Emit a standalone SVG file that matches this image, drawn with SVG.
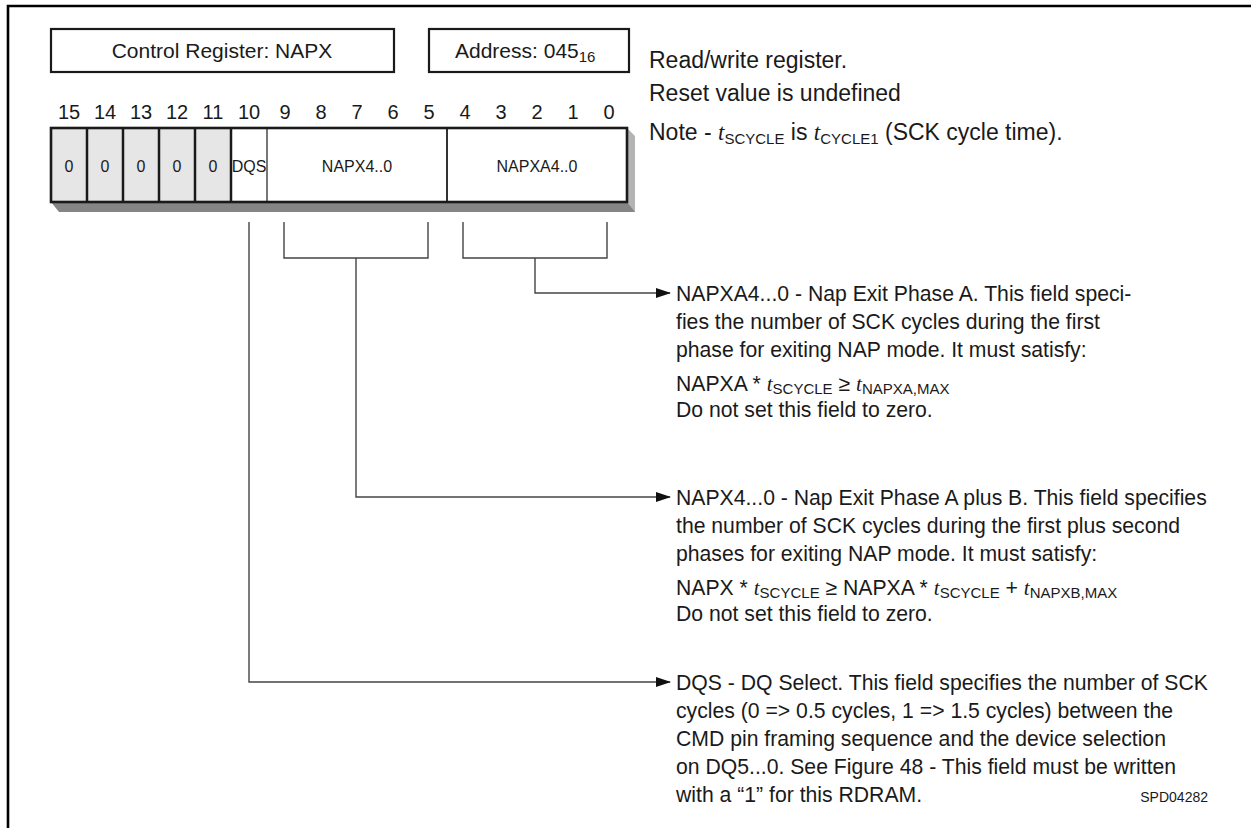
<svg xmlns="http://www.w3.org/2000/svg" width="1251" height="828" viewBox="0 0 1251 828">
<defs>
<style>
.t{font-family:"Liberation Sans",Arial,sans-serif;fill:#1a1a1a}
.lbl{font-size:21px}
.num{font-size:20px;text-anchor:middle}
.cell{font-size:16px;text-anchor:middle}
.body{font-size:21.2px}
.top{font-size:23px}
.it{font-family:"Liberation Serif","Times New Roman",serif;font-style:italic}
.sub{font-size:15px}
.box{fill:#fff;stroke:#1a1a1a;stroke-width:2.2}
.conn{fill:none;stroke:#444;stroke-width:1.4}
</style>
<marker id="arr" markerWidth="15" markerHeight="10" refX="14" refY="5" orient="auto" markerUnits="userSpaceOnUse">
<path d="M0,0 L15,5 L0,10 Z" fill="#111"/>
</marker>
</defs>
<rect width="1251" height="828" fill="#fff"/>
<path d="M8,828 V6 H1251" fill="none" stroke="#000" stroke-width="2.6"/>

<g id="title">
<rect class="box" x="51" y="29" width="343" height="43"/>
<text class="t lbl" x="222" y="58" text-anchor="middle">Control Register: NAPX</text>
</g>
<g id="address">
<rect class="box" x="429" y="29" width="200" height="43"/>
<text class="t lbl" x="455" y="58">Address: 045<tspan class="sub" dy="4">16</tspan></text>
</g>

<g id="bitnumbers">
<text class="t num" x="69" y="119">15</text>
<text class="t num" x="105" y="119">14</text>
<text class="t num" x="141" y="119">13</text>
<text class="t num" x="177" y="119">12</text>
<text class="t num" x="213" y="119">11</text>
<text class="t num" x="249" y="119">10</text>
<text class="t num" x="285" y="119">9</text>
<text class="t num" x="321" y="119">8</text>
<text class="t num" x="357" y="119">7</text>
<text class="t num" x="393" y="119">6</text>
<text class="t num" x="429" y="119">5</text>
<text class="t num" x="465" y="119">4</text>
<text class="t num" x="501" y="119">3</text>
<text class="t num" x="537" y="119">2</text>
<text class="t num" x="573" y="119">1</text>
<text class="t num" x="609" y="119">0</text>
</g>

<g id="register">
<polygon points="51,202 627,202 635,210 635,212 59,212" fill="#858585"/>
<polygon points="627,128 635,136 635,212 627,202" fill="#b4b4b4"/>
<rect x="51" y="128" width="180" height="74" fill="#e6e6e6"/>
<rect x="231" y="128" width="396" height="74" fill="#fff"/>
<g stroke="#1a1a1a" stroke-width="2.5">
<line x1="87" y1="128" x2="87" y2="202"/>
<line x1="123" y1="128" x2="123" y2="202"/>
<line x1="159" y1="128" x2="159" y2="202"/>
<line x1="195" y1="128" x2="195" y2="202"/>
<line x1="231" y1="128" x2="231" y2="202"/>
</g>
<line x1="267" y1="128" x2="267" y2="202" stroke="#555" stroke-width="1.6"/>
<line x1="447" y1="128" x2="447" y2="202" stroke="#333" stroke-width="2"/>
<rect x="51" y="128" width="576" height="74" fill="none" stroke="#1a1a1a" stroke-width="2.6"/>
<text class="t cell" x="69" y="172">0</text>
<text class="t cell" x="105" y="172">0</text>
<text class="t cell" x="141" y="172">0</text>
<text class="t cell" x="177" y="172">0</text>
<text class="t cell" x="213" y="172">0</text>
<text class="t cell" x="249" y="172">DQS</text>
<text class="t cell" x="357" y="172">NAPX4..0</text>
<text class="t cell" x="537" y="172">NAPXA4..0</text>
</g>

<g id="connectors">
<path class="conn" d="M284,222 V258 H428 V222"/>
<path class="conn" d="M463,222 V258 H607 V222"/>
<path class="conn" d="M535,258 V293 H670" marker-end="url(#arr)"/>
<path class="conn" d="M356,258 V497 H670" marker-end="url(#arr)"/>
<path class="conn" d="M249,222 V682 H670" marker-end="url(#arr)"/>
</g>

<g id="notes">
<text class="t top" x="649" y="68">Read/write register.</text>
<text class="t top" x="649" y="101">Reset value is undefined</text>
<text class="t top" x="649" y="140">Note - <tspan class="it">t</tspan><tspan class="sub" dy="4">SCYCLE</tspan><tspan dy="-4"> is </tspan><tspan class="it">t</tspan><tspan class="sub" dy="4">CYCLE1</tspan><tspan dy="-4"> (SCK cycle time).</tspan></text>
</g>

<g id="napxa-desc">
<text class="t body" x="676" y="301">NAPXA4...0 - Nap Exit Phase A. This field speci-</text>
<text class="t body" x="676" y="329">fies the number of SCK cycles during the first</text>
<text class="t body" x="676" y="357">phase for exiting NAP mode. It must satisfy:</text>
<text class="t body" x="676" y="391">NAPXA * <tspan class="it">t</tspan><tspan class="sub" dy="3">SCYCLE</tspan><tspan dy="-3"> ≥ </tspan><tspan class="it">t</tspan><tspan class="sub" dy="3">NAPXA,MAX</tspan></text>
<text class="t body" x="676" y="417">Do not set this field to zero.</text>
</g>

<g id="napx-desc">
<text class="t body" x="676" y="505">NAPX4...0 - Nap Exit Phase A plus B. This field specifies</text>
<text class="t body" x="676" y="533">the number of SCK cycles during the first plus second</text>
<text class="t body" x="676" y="561">phases for exiting NAP mode. It must satisfy:</text>
<text class="t body" x="676" y="595">NAPX * <tspan class="it">t</tspan><tspan class="sub" dy="3">SCYCLE</tspan><tspan dy="-3"> ≥ NAPXA * </tspan><tspan class="it">t</tspan><tspan class="sub" dy="3">SCYCLE</tspan><tspan dy="-3"> + </tspan><tspan class="it">t</tspan><tspan class="sub" dy="3">NAPXB,MAX</tspan></text>
<text class="t body" x="676" y="621">Do not set this field to zero.</text>
</g>

<g id="dqs-desc">
<text class="t body" x="676" y="690">DQS - DQ Select. This field specifies the number of SCK</text>
<text class="t body" x="676" y="718">cycles (0 =&gt; 0.5 cycles, 1 =&gt; 1.5 cycles) between the</text>
<text class="t body" x="676" y="746">CMD pin framing sequence and the device selection</text>
<text class="t body" x="676" y="774">on DQ5...0. See Figure 48 - This field must be written</text>
<text class="t body" x="676" y="802">with a “1” for this RDRAM.</text>
<text class="t" x="1208" y="802" font-size="14" text-anchor="end">SPD04282</text>
</g>
</svg>
